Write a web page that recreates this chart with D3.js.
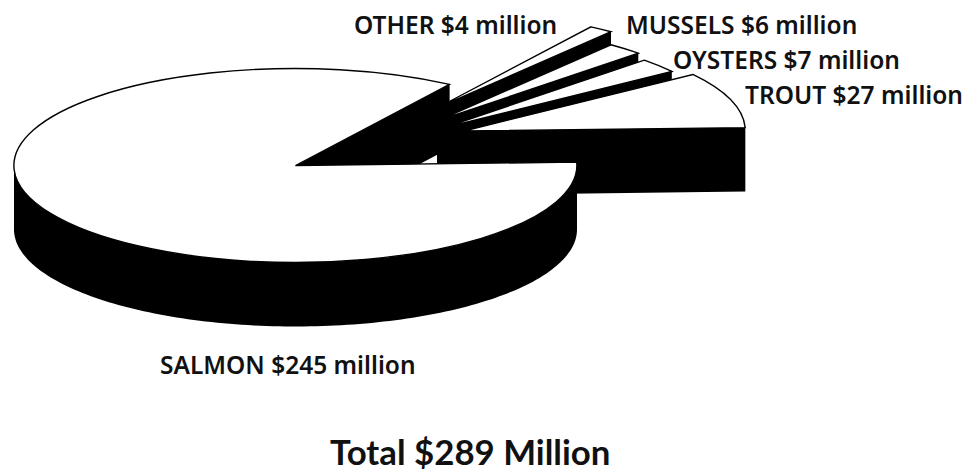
<!DOCTYPE html>
<html>
<head>
<meta charset="utf-8">
<script src="https://cdn.jsdelivr.net/npm/d3@7"></script>
<style>
html, body { margin: 0; padding: 0; background: #fff; }
svg { display: block; }
text { font-family: "Noto Sans", "Open Sans", sans-serif; font-weight: 600; fill: #111; }
text.total { font-family: Lato, "Noto Sans", sans-serif; font-weight: 700; }
</style>
</head>
<body>
<svg id="chart" width="966" height="472"></svg>
<script>
// Aquaculture value by species, in millions of dollars
const categories = ["SALMON", "OTHER", "MUSSELS", "OYSTERS", "TROUT"];
const values = [245, 4, 6, 7, 27];
const totalLabel = "Total $289 Million";

// Pie geometry: tilted ellipse with an extruded black wall
const radiusX = 281.5, radiusY = 97, wallDepth = 64;
const rotation = 88 * Math.PI / 180;

// Each wedge is pulled away from the pie by its own amount
const wedgeCentres = [[295.5, 165.5], [437, 108], [437, 121], [443, 128], [464, 131]];
const labelSpots = [
  { x: 160, y: 374 },
  { x: 354, y: 34 },
  { x: 626, y: 34 },
  { x: 673, y: 69 },
  { x: 745, y: 104 }
];

const svg = d3.select("#chart");
const pie = d3.pie().sort(null).startAngle(rotation).endAngle(rotation + 2 * Math.PI);
const arcs = pie(values);

const xScale = d3.scaleLinear().domain([-1, 1]).range([-radiusX, radiusX]);
const yScale = d3.scaleLinear().domain([-1, 1]).range([-radiusY, radiusY]);
const px = a => xScale(Math.sin(a));
const py = a => yScale(-Math.cos(a));

const faceArc = d3.arc().innerRadius(0).outerRadius(1);
const wall = d3.area().x(d => d.x).y0(d => d.y + wallDepth).y1(d => d.y);

// Paint back to front: the small wedges first, the salmon slice last
const order = [1, 2, 3, 4, 0];
order.forEach(i => {
  const d = arcs[i];
  const [cx, cy] = wedgeCentres[i];
  const g = svg.append("g").attr("transform", `translate(${cx},${cy})`);
  const steps = d3.range(0, 241).map(k => d.startAngle + (d.endAngle - d.startAngle) * k / 240);
  const rim = steps.map(a => ({ x: px(a), y: py(a) }));

  // Two radial cut walls
  [rim[0], rim[rim.length - 1]].forEach(p => {
    g.append("path").attr("d", wall([{ x: 0, y: 0 }, p])).attr("fill", "#000");
  });

  // Curved outer wall: only the part of the rim that faces the viewer
  const frontRim = rim.filter(p => p.y >= 0);
  if (frontRim.length > 1) {
    g.append("path").attr("d", wall(frontRim)).attr("fill", "#000");
  }

  // White top face, stroked at constant width through the elliptical scale
  g.append("path")
    .attr("d", faceArc(d))
    .attr("transform", `scale(${radiusX},${radiusY})`)
    .attr("fill", "#fff")
    .attr("stroke", "#000")
    .attr("stroke-width", 1.4)
    .attr("vector-effect", "non-scaling-stroke");
});

categories.forEach((name, i) => {
  svg.append("text")
    .attr("x", labelSpots[i].x)
    .attr("y", labelSpots[i].y)
    .attr("font-size", 24.5)
    .text(`${name} $${values[i]} million`);
});

svg.append("text")
  .attr("class", "total")
  .attr("x", 330)
  .attr("y", 465)
  .attr("font-size", 34.8)
  .text(totalLabel);
</script>
</body>
</html>
